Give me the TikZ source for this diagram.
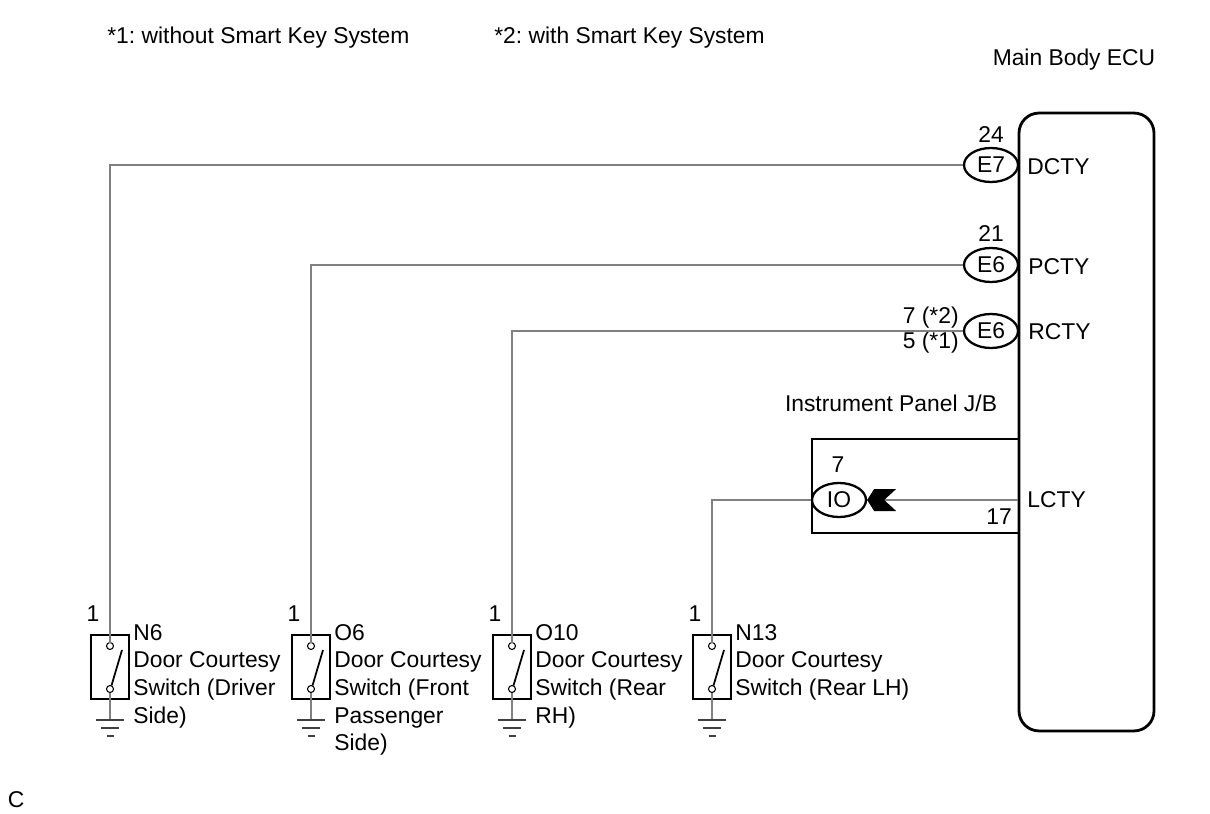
\documentclass[tikz,border=0pt]{standalone}
\usepackage{fontspec}
\setmainfont{Liberation Sans}
\usetikzlibrary{shapes.geometric}

\tikzset{
  wire/.style={draw=black!50,line width=1.1pt},
  conn/.style={draw,ellipse,line width=1.3pt,minimum width=1.08cm,minimum height=0.68cm,inner sep=0pt},
  swbox/.style={draw,line width=1.6pt,minimum width=0.76cm,minimum height=1.28cm,inner sep=0pt},
  swtext/.style={anchor=north west,align=left,inner sep=0pt},
  lbl/.style={inner sep=0pt}
}

\frenchspacing
\begin{document}
\begin{tikzpicture}[x=0.02cm,y=-0.02cm,font=\fontsize{13}{15.7}\selectfont]
\useasboundingbox (0,0) rectangle (1210,814);

\node[lbl,anchor=west] (note1) at (107,38) {*1: without Smart Key System};
\node[lbl,anchor=west] (note2) at (494,38) {*2: with Smart Key System};
\node[lbl] (ecutitle) at (1074,60) {Main Body ECU};
\node[lbl] (fig) at (16,800) {C};

\node[draw,line width=1.6pt,rounded corners=0.4cm,minimum width=2.7cm,minimum height=12.36cm] (ecu) at (1086.5,422) {};
\draw[line width=1.6pt] (1019,439) -- (812,439) -- (812,533) -- (1019,533);
\node[lbl] (jb) at (891,403) {Instrument Panel J/B};

\node[conn] (e7) at (991,165) {E7};
\node[conn] (e6p) at (991,265) {E6};
\node[conn] (e6r) at (991,331) {E6};
\node[conn] (io) at (839,500) {IO};

\node[lbl] at (991,135) {24};
\node[lbl] at (991,234) {21};
\node[lbl,anchor=east] at (959,318) {7 (*2)};
\node[lbl,anchor=east] at (959,343) {5 (*1)};
\node[lbl] at (838,465) {7};
\node[lbl] at (999,517) {17};

\node[lbl,anchor=west] (dcty) at (1027,167) {DCTY};
\node[lbl,anchor=west] (pcty) at (1028,267) {PCTY};
\node[lbl,anchor=west] (rcty) at (1028,332) {RCTY};
\node[lbl,anchor=west] (lcty) at (1027,500) {LCTY};

\foreach \i/\x/\txt in {1/110/{N6\\Door Courtesy\\Switch (Driver\\Side)},
    2/311/{O6\\Door Courtesy\\Switch (Front\\Passenger\\Side)},
    3/512/{O10\\Door Courtesy\\Switch (Rear\\RH)},
    4/712/{N13\\Door Courtesy\\Switch (Rear LH)}} {
  \node[swbox] (sw\i) at (\x,667) {};
  \coordinate (t\i) at (\x,642.5);
  \draw[line width=0.6pt] (\x,646) circle (3.5) (\x,689) circle (3.5);
  \draw[line width=1pt] (\x+1.5,685.5) -- (\x+12,650);
  \draw[wire] (\x,692.5) -- (\x,720);
  \draw[black!75,line width=1.4pt] (\x-14,720) -- (\x+14,720);
  \draw[black!75,line width=1pt] (\x-9,728) -- (\x+9,728) (\x-3.5,736) -- (\x+3.5,736);
  \node[lbl] at (\x-17,614) {1};
  \node[swtext] at (\x+23,624) {\txt};
}

\draw[wire] (e7.west) -| (t1);
\draw[wire] (e6p.west) -| (t2);
\draw[wire] (e6r.west) -| (t3);
\draw[wire] (ecu.west |- io) -- (io.east);
\draw[wire] (io.west) -| (t4);
\fill (io.east) -- ++(7,-11) -- ++(22,0) -- ++(-12,11) -- ++(12,11) -- ++(-22,0) -- cycle;

\end{tikzpicture}
\end{document}
